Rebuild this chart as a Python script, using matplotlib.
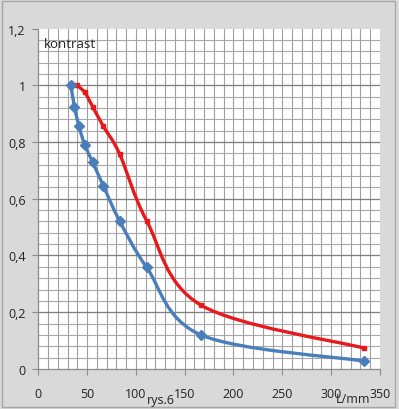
import numpy as np
import matplotlib
matplotlib.use("Agg")
import matplotlib.pyplot as plt
from matplotlib.path import Path
from matplotlib.patches import PathPatch, Rectangle

# Data
blue_x = [33.3, 37.0, 41.7, 47.6, 55.6, 66.7, 83.3, 111.1, 166.7, 333.3]
blue_y = [1.0, 0.925, 0.855, 0.79, 0.73, 0.645, 0.522, 0.358, 0.12, 0.028]
red_x = [39.5, 47.6, 55.6, 66.7, 83.3, 111.1, 166.7, 333.3]
red_y = [1.0, 0.975, 0.925, 0.855, 0.758, 0.522, 0.225, 0.074]
x_ticks = [0, 50, 100, 150, 200, 250, 300, 350]
y_ticks = [0, 0.2, 0.4, 0.6, 0.8, 1.0, 1.2]
y_labels = ["0", "0,2", "0,4", "0,6", "0,8", "1", "1,2"]

BLUE = "#4a7ebb"
RED = "#e8191c"
FONT = "Open Sans"


def smooth_path(xs, ys):
    pts = np.column_stack([xs, ys]).astype(float)
    n = len(pts)
    verts = [tuple(pts[0])]
    codes = [Path.MOVETO]
    for i in range(n - 1):
        p0 = pts[i - 1] if i > 0 else pts[i]
        p1 = pts[i]
        p2 = pts[i + 1]
        p3 = pts[i + 2] if i + 2 < n else pts[i + 1]
        c1 = p1 + (p2 - p0) / 6.0
        c2 = p2 - (p3 - p1) / 6.0
        verts += [tuple(c1), tuple(c2), tuple(p2)]
        codes += [Path.CURVE4] * 3
    return Path(verts, codes)


fig = plt.figure(figsize=(3.99, 4.10), dpi=100)
fig.patch.set_facecolor("#d9d9d9")
# outer frame
fig.patches.append(Rectangle((0.004, 0.006), 0.987, 0.99, transform=fig.transFigure,
                             fill=False, edgecolor="#a6a6a6", linewidth=1.0))

ax = fig.add_axes([0.096, 0.0976, 0.856, 0.8304])
ax.set_facecolor("white")
ax.set_xlim(0, 350)
ax.set_ylim(0, 1.2)

# grid
for xv in np.arange(10, 350, 10):
    ax.axvline(xv, color="#a0a0a0", lw=0.8, zorder=1)
for yv in np.arange(0.04, 1.2, 0.04):
    ax.axhline(yv, color="#a8a8a8", lw=0.8, zorder=1)
for yv in y_ticks[1:-1]:
    ax.axhline(yv, color="#7f7f7f", lw=0.9, zorder=1)

for s in ["top", "right"]:
    ax.spines[s].set_visible(False)
for s in ["left", "bottom"]:
    ax.spines[s].set_color("#8c8c8c")
    ax.spines[s].set_linewidth(0.9)

ax.set_xticks(x_ticks)
ax.set_yticks(y_ticks)
ax.set_yticklabels(y_labels)
ax.tick_params(axis="x", length=4, width=0.8, color="#8c8c8c", pad=9, labelsize=9)
ax.tick_params(axis="y", length=4, width=0.8, color="#8c8c8c", pad=5, labelsize=9)
for lab in ax.get_xticklabels() + ax.get_yticklabels():
    lab.set_fontfamily(FONT)
    lab.set_color("#222222")

# smoothed lines
ax.add_patch(PathPatch(smooth_path(red_x, red_y), facecolor="none", edgecolor=RED,
                       lw=2.4, zorder=3, capstyle="round", joinstyle="round"))
ax.plot(red_x, red_y, linestyle="none", marker="s", markersize=3.2, color=RED, zorder=4)
ax.add_patch(PathPatch(smooth_path(blue_x, blue_y), facecolor="none", edgecolor=BLUE,
                       lw=2.4, zorder=5, capstyle="round", joinstyle="round"))
ax.plot(blue_x, blue_y, linestyle="none", marker="D", markersize=5.5, color=BLUE, zorder=6)

ax.text(0.016, 0.955, "kontrast", transform=ax.transAxes, fontsize=9.5, family=FONT,
        ha="left", va="center", color="#222222", zorder=7)
fig.text(161 / 399, 1 - 401 / 410, "rys.6", fontsize=9, family=FONT,
         ha="center", va="center", color="#222222")
fig.text(353 / 399, 1 - 400 / 410, "L/mm", fontsize=9, family=FONT,
         ha="center", va="center", color="#222222")

fig.savefig("out.png", dpi=100, facecolor=fig.get_facecolor())
